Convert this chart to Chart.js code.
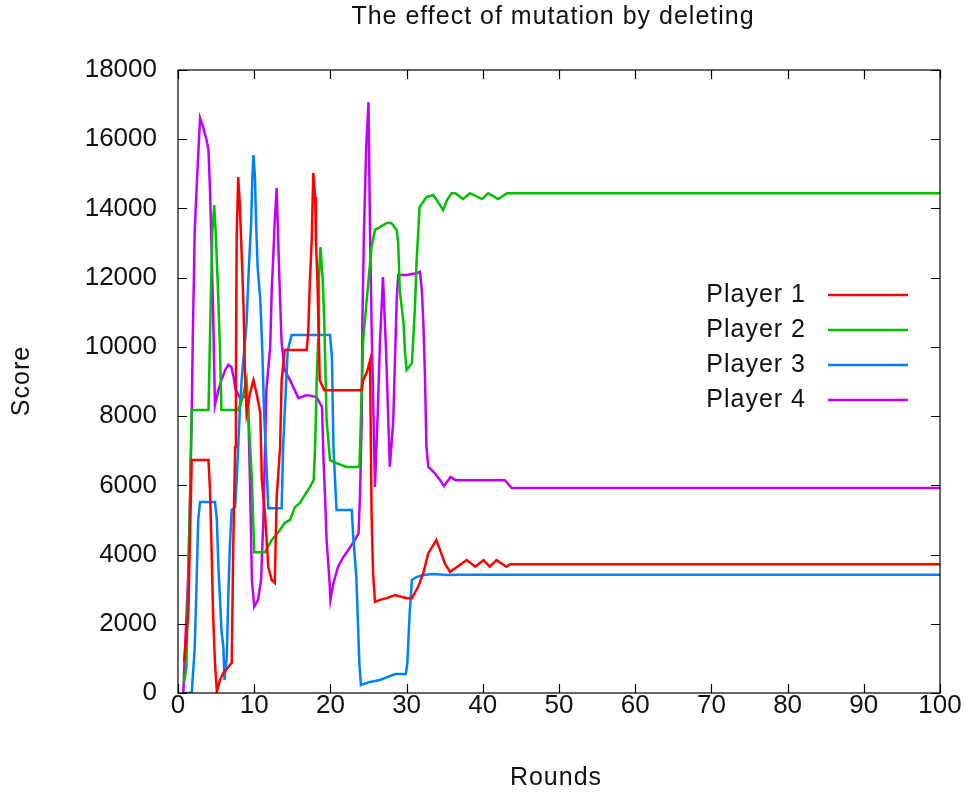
<!DOCTYPE html>
<html>
<head>
<meta charset="utf-8">
<script src="https://cdn.jsdelivr.net/npm/chart.js@4"></script>
<style>
  html, body { margin: 0; padding: 0; background: #fff; }
  #wrap { width: 967px; height: 793px; }
</style>
</head>
<body>
<div id="wrap"><canvas id="chart" width="967" height="793"></canvas></div>
<script>
const players = ['Player 1', 'Player 2', 'Player 3', 'Player 4'];
const colors = ['#ff0000', '#00c000', '#0080ff', '#c000ff'];

const p1Rounds = [0.8, 1.35, 1.8, 4.0, 4.2, 4.4, 4.6, 4.85, 5.1, 5.5, 5.95, 6.6, 7.05, 7.25, 7.5, 7.6, 7.7, 7.9, 8.1, 8.35, 8.6, 8.8, 9.0, 9.45, 9.9, 10.3, 10.8, 11.0, 11.4, 11.85, 12.3, 12.7, 12.95, 13.4, 13.6, 14.0, 16.9, 17.1, 17.3, 17.55, 17.75, 18.0, 18.1, 18.3, 18.6, 19.2, 24.1, 24.3, 24.8, 25.2, 25.4, 25.6, 25.85, 26.5, 27.4, 28.5, 30.0, 30.7, 31.5, 32.2, 32.85, 33.9, 34.4, 35.0, 35.7, 36.6, 37.9, 39.0, 40.1, 40.9, 41.8, 43.1, 43.6, 100];
const p1Scores = [900, 2310, 6730, 6730, 5860, 4220, 2310, 870, 30, 375, 580, 750, 870, 4220, 7110, 9040, 13170, 14910, 14160, 12710, 11150, 9130, 8090, 8670, 9040, 8670, 8090, 6150, 5200, 3640, 3265, 3180, 5660, 7110, 9040, 9910, 9910, 10490, 11840, 13090, 15020, 14330, 13090, 11930, 9040, 8750, 8750, 9040, 9270, 9600, 5200, 3470, 2630, 2690, 2740, 2830, 2740, 2740, 3060, 3470, 4040, 4420, 4130, 3750, 3500, 3640, 3840, 3650, 3840, 3650, 3840, 3650, 3720, 3720];

const p2Rounds = [0.8, 1.1, 1.35, 1.6, 1.8, 4.0, 4.2, 4.5, 4.75, 4.95, 5.2, 5.5, 5.7, 7.9, 8.4, 9.0, 9.7, 10.0, 11.4, 12.3, 13.2, 14.0, 14.7, 15.35, 16.0, 17.3, 17.8, 18.0, 18.2, 18.4, 18.5, 18.7, 19.0, 19.2, 19.5, 19.95, 20.8, 22.1, 23.8, 23.9, 24.3, 25.0, 25.4, 25.85, 26.5, 27.4, 28.0, 28.7, 28.9, 29.1, 29.6, 29.8, 30.0, 30.7, 31.1, 31.3, 31.7, 32.6, 33.5, 34.2, 34.8, 35.3, 35.9, 36.4, 37.4, 38.3, 39.9, 40.7, 42.0, 43.2, 100];
const p2Scores = [300, 750, 3265, 5860, 8180, 8180, 10290, 13290, 14100, 13290, 11930, 10000, 8180, 8180, 8470, 9040, 6150, 4070, 4070, 4420, 4650, 4910, 5000, 5370, 5490, 5950, 6150, 7110, 9040, 10200, 12020, 12880, 11930, 10690, 7890, 6730, 6640, 6530, 6530, 7110, 10200, 11930, 12880, 13380, 13460, 13580, 13580, 13380, 13000, 11640, 10690, 9820, 9330, 9530, 11150, 12420, 14040, 14330, 14390, 14160, 13950, 14240, 14440, 14440, 14270, 14440, 14270, 14440, 14270, 14440, 14440];

const p3Rounds = [0.7, 1.8, 2.2, 2.45, 2.65, 2.9, 4.85, 5.1, 5.3, 5.5, 5.7, 5.95, 6.1, 6.4, 6.6, 6.8, 7.05, 7.5, 7.7, 8.1, 8.35, 9.0, 9.3, 9.6, 9.75, 9.9, 10.1, 10.25, 10.45, 10.8, 11.05, 11.3, 11.6, 11.85, 13.6, 13.8, 14.0, 14.4, 14.9, 19.95, 20.2, 20.4, 20.8, 22.8, 23.0, 23.4, 23.6, 23.8, 24.0, 25.2, 26.5, 27.8, 28.5, 29.9, 30.1, 30.4, 30.7, 31.3, 32.2, 33.5, 35.3, 37.0, 100];
const p3Scores = [0, 0, 1330, 3265, 5000, 5520, 5520, 5000, 3640, 2770, 1820, 1330, 375, 1040, 2770, 4220, 5290, 5370, 6150, 8090, 9040, 10690, 12310, 13580, 14820, 15540, 14910, 13580, 12310, 11350, 10000, 8090, 6640, 5340, 5340, 7110, 8090, 9900, 10340, 10340, 9710, 7110, 5290, 5290, 4510, 3350, 2110, 870, 230, 320, 375, 490, 550, 550, 870, 2310, 3265, 3350, 3410, 3440, 3410, 3420, 3420];

const p4Rounds = [0.7, 0.9, 1.35, 1.6, 1.8, 1.95, 2.2, 2.45, 2.75, 2.9, 3.3, 3.5, 3.75, 4.0, 4.2, 4.4, 4.6, 4.85, 5.3, 5.7, 6.2, 6.6, 7.0, 7.3, 7.5, 8.2, 9.0, 9.2, 9.45, 9.7, 10.0, 10.5, 10.9, 11.2, 11.4, 11.6, 12.1, 12.3, 12.5, 12.7, 12.95, 13.2, 13.4, 13.6, 14.0, 14.7, 15.8, 16.9, 18.2, 18.9, 19.1, 19.3, 19.5, 19.9, 20.0, 20.4, 21.0, 21.7, 22.35, 23.2, 23.7, 23.9, 24.1, 24.2, 24.4, 24.7, 25.0, 25.2, 25.4, 25.85, 26.2, 26.5, 26.9, 27.3, 27.8, 28.25, 28.7, 28.9, 30.0, 31.3, 31.75, 32.0, 32.2, 32.4, 32.6, 32.85, 33.7, 34.4, 34.9, 35.3, 35.8, 36.4, 42.9, 43.8, 100];
const p4Scores = [0, 1150, 3470, 5860, 8090, 10400, 13380, 14620, 15980, 16610, 16350, 16180, 15980, 15690, 14530, 12880, 11070, 8320, 8750, 9040, 9330, 9480, 9420, 9130, 8800, 8500, 8600, 8380, 6070, 3265, 2490, 2690, 3265, 5000, 6820, 8750, 10000, 11640, 12600, 13670, 14590, 12710, 11350, 10110, 9330, 9040, 8520, 8610, 8550, 8260, 6730, 5660, 4420, 3180, 2690, 3180, 3640, 3930, 4130, 4420, 4620, 5860, 7800, 10780, 13290, 15770, 17070, 13290, 10690, 5950, 8000, 10110, 12020, 9910, 6530, 7890, 11350, 12080, 12080, 12130, 12170, 11640, 10690, 9240, 7110, 6530, 6350, 6150, 5980, 6100, 6240, 6150, 6150, 5920, 5920];

const xTicks = [0, 10, 20, 30, 40, 50, 60, 70, 80, 90, 100];
const yTicks = [0, 2000, 4000, 6000, 8000, 10000, 12000, 14000, 16000, 18000];

const chartTitle = 'The effect of mutation by deleting';
const xTitle = 'Rounds';
const yTitle = 'Score';

function zip(xs, ys) {
  return xs.map((x, i) => ({x: x, y: ys[i]}));
}

const series = [
  zip(p1Rounds, p1Scores),
  zip(p2Rounds, p2Scores),
  zip(p3Rounds, p3Scores),
  zip(p4Rounds, p4Scores),
];

const FONT = '"Liberation Sans", Arial, sans-serif';

// gnuplot-like frame, inward ticks, title, axis titles and legend
const framePlugin = {
  id: 'frame',
  afterDatasetsDraw(chart) {
    const ctx = chart.ctx;
    const a = chart.chartArea;
    const xs = chart.scales.x, ys = chart.scales.y;
    const tl = 9;
    ctx.save();
    ctx.strokeStyle = '#000';
    ctx.lineWidth = 1.2;
    ctx.strokeRect(a.left, a.top, a.right - a.left, a.bottom - a.top);
    ctx.beginPath();
    xTicks.forEach(v => {
      const px = Math.round(xs.getPixelForValue(v)) + 0.5;
      ctx.moveTo(px, a.bottom); ctx.lineTo(px, a.bottom - tl);
      ctx.moveTo(px, a.top); ctx.lineTo(px, a.top + tl);
    });
    yTicks.forEach(v => {
      const py = Math.round(ys.getPixelForValue(v)) + 0.5;
      ctx.moveTo(a.left, py); ctx.lineTo(a.left + tl, py);
      ctx.moveTo(a.right, py); ctx.lineTo(a.right - tl, py);
    });
    ctx.stroke();

    ctx.fillStyle = '#111';
    ctx.letterSpacing = '1px';
    ctx.font = '25px ' + FONT;
    ctx.textBaseline = 'middle';
    ctx.textAlign = 'center';
    ctx.fillText(chartTitle, 553, 17);
    ctx.fillText(xTitle, 556, 778);
    ctx.save();
    ctx.translate(22, 381);
    ctx.rotate(-Math.PI / 2);
    ctx.fillText(yTitle, 0, 0);
    ctx.restore();

    // legend
    ctx.textAlign = 'right';
    chart.data.datasets.forEach((ds, i) => {
      const y = 295 + i * 35;
      ctx.fillStyle = '#111';
      ctx.fillText(ds.label, 806, y);
      ctx.strokeStyle = ds.borderColor;
      ctx.lineWidth = 2.5;
      ctx.beginPath();
      ctx.moveTo(828, y);
      ctx.lineTo(908, y);
      ctx.stroke();
    });
    ctx.restore();
  }
};

const ctx = document.getElementById('chart').getContext('2d');
new Chart(ctx, {
  type: 'line',
  data: {
    datasets: players.map((name, i) => ({
      label: name,
      data: series[i],
      borderColor: colors[i],
      backgroundColor: colors[i],
      borderWidth: 2.5,
      pointRadius: 0,
      tension: 0,
      fill: false,
    }))
  },
  options: {
    responsive: false,
    animation: false,
    layout: {padding: {left: 0, right: 27, top: 70, bottom: 0}},
    plugins: {
      legend: {display: false},
      title: {display: false},
      tooltip: {enabled: false},
    },
    scales: {
      x: {
        type: 'linear',
        min: 0,
        max: 100,
        afterFit: s => { s.height = 100; },
        afterBuildTicks: s => { s.ticks = xTicks.map(v => ({value: v})); },
        grid: {display: false, drawTicks: false},
        border: {display: false},
        ticks: {
          color: '#111',
          padding: 0,
          maxRotation: 0,
          callback: v => String(v),
          font: {family: FONT, size: 26, lineHeight: 1},
        },
      },
      y: {
        type: 'linear',
        min: 0,
        max: 18000,
        afterFit: s => { s.width = 178; },
        afterBuildTicks: s => { s.ticks = yTicks.map(v => ({value: v})); },
        grid: {display: false, drawTicks: false},
        border: {display: false},
        ticks: {
          color: '#111',
          padding: 21,
          callback: v => String(v),
          font: {family: FONT, size: 26, lineHeight: 1},
        },
      },
    },
  },
  plugins: [framePlugin],
});
</script>
</body>
</html>
